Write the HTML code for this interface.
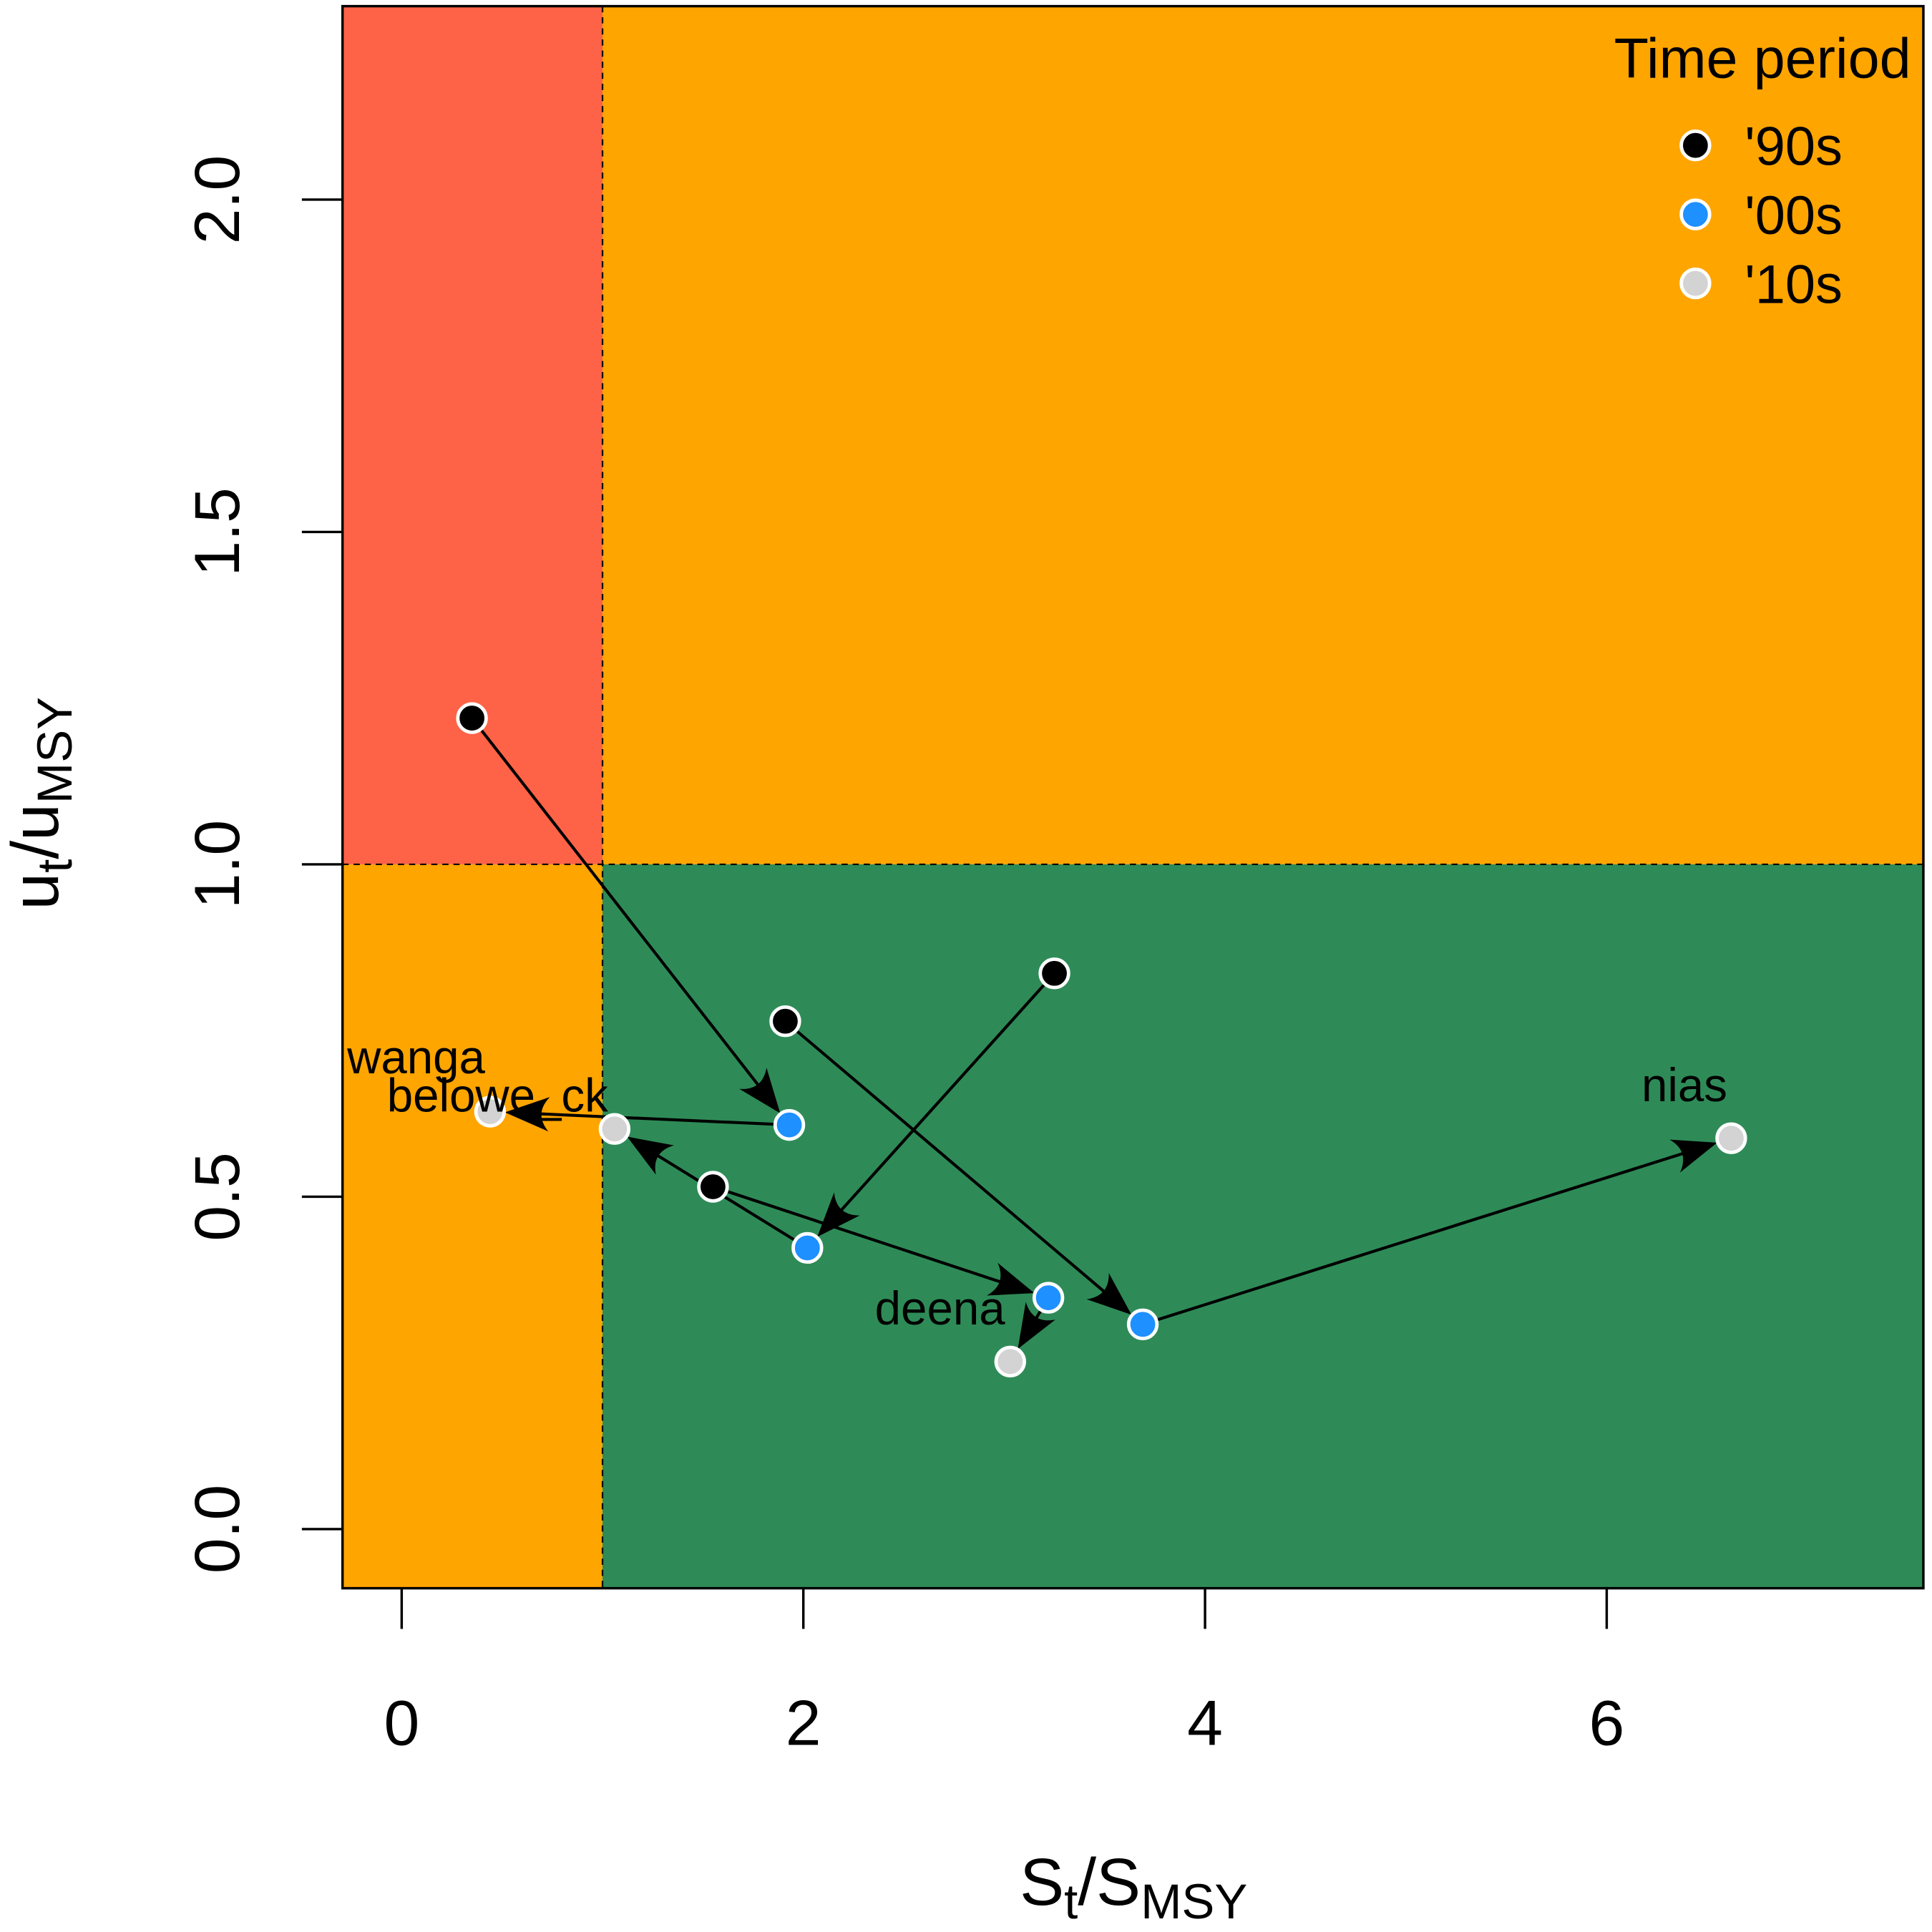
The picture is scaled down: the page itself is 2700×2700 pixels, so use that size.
<!DOCTYPE html>
<html><head><meta charset="utf-8"><style>
html,body{margin:0;padding:0;background:#fff;}
svg{display:block;font-family:"Liberation Sans",Arial,sans-serif;}
</style></head><body>
<svg id="chart" width="2700" height="2700" viewBox="0 0 1568 1568" xmlns="http://www.w3.org/2000/svg">
<g id="bg"></g>
<g id="axes"></g>
<g id="arrows"></g>
<g id="pts"></g>
<g id="labels"></g>
<g id="legend">
  <text x="1551" y="63" font-size="46" text-anchor="end">Time period</text>
</g>
<text x="920" y="1546" font-size="54" text-anchor="middle">S<tspan font-size="40" dy="11">t</tspan><tspan dy="-11">/S</tspan><tspan font-size="40" dy="11">MSY</tspan></text>
<text transform="translate(47,652) rotate(-90)" font-size="54" text-anchor="middle">u<tspan font-size="40" dy="11">t</tspan><tspan dy="-11">/u</tspan><tspan font-size="40" dy="11">MSY</tspan></text>
</svg>
<script>
const stocks = ["wanga","belowe_ck","deena","nias"];
const sx90 = [0.35, 3.25, 1.55, 1.91];
const uy90 = [1.22, 0.836, 0.515, 0.764];
const sx00 = [1.93, 2.02, 3.22, 3.69];
const uy00 = [0.608, 0.423, 0.348, 0.308];
const sx10 = [0.44, 1.06, 3.03, 6.62];
const uy10 = [0.628, 0.602, 0.252, 0.588];
const xTicks = [0,2,4,6];
const yTicks = ["0.0","0.5","1.0","1.5","2.0"];
const periods = ["'90s","'00s","'10s"];
const periodColors = ["#000000","#1E90FF","#D3D3D3"];

const NS="http://www.w3.org/2000/svg";
const L=278,R=1561,T=5,B=1289;
function X(v){return 326+v*163;}
function Y(v){return 1241-v*539.5;}
function mk(tag,attrs,parent){const e=document.createElementNS(NS,tag);for(const k in attrs)e.setAttribute(k,attrs[k]);parent.appendChild(e);return e;}
const bg=document.getElementById('bg');
let r;
r=mk('rect',{x:L,y:T,width:X(1)-L,height:Y(1)-T,fill:'#FF6347'},bg);

r=mk('rect',{x:X(1),y:T,width:R-X(1),height:Y(1)-T,fill:'#FFA500'},bg);

r=mk('rect',{x:L,y:Y(1),width:X(1)-L,height:B-Y(1),fill:'#FFA500'},bg);

r=mk('rect',{x:X(1),y:Y(1),width:R-X(1),height:B-Y(1),fill:'#2E8B57'},bg);

r=mk('line',{x1:X(1),y1:T,x2:X(1),y2:B,stroke:'#000','stroke-width':1.3,'stroke-dasharray':'5,4'},bg);

r=mk('line',{x1:L,y1:Y(1),x2:R,y2:Y(1),stroke:'#000','stroke-width':1.3,'stroke-dasharray':'5,4'},bg);

r=mk('rect',{x:L,y:T,width:R-L,height:B-T,fill:'none',stroke:'#000','stroke-width':2},bg);


const ax=document.getElementById('axes');
xTicks.forEach(v=>{
  let t=mk('line',{x1:X(v),y1:B,x2:X(v),y2:B+33,stroke:'#000','stroke-width':2},ax);
  
  let s=mk('text',{x:X(v),y:1416,'font-size':52,'text-anchor':'middle'},ax);s.textContent=v;
  
});
yTicks.forEach(v=>{
  const y=Y(parseFloat(v));
  let t=mk('line',{x1:L,y1:y,x2:L-33,y2:y,stroke:'#000','stroke-width':2},ax);
  
  let s=mk('text',{transform:`translate(194,${y}) rotate(-90)`,'font-size':52,'text-anchor':'middle'},ax);s.textContent=v;
  
});

const ar=document.getElementById('arrows');
function arrow(x1,y1,x2,y2){
  const dx=x2-x1,dy=y2-y1,len=Math.hypot(dx,dy),ux=dx/len,uy=dy/len;
  const ex=x2-ux*12,ey=y2-uy*12;
  let l=mk('line',{x1:x1,y1:y1,x2:ex-ux*10,y2:ey-uy*10,stroke:'#000','stroke-width':2.4},ar);
  
  const px=-uy,py=ux,hl=36,hw=14;
  const bx=ex-ux*hl,by=ey-uy*hl,mx=ex-ux*hl*0.65,my=ey-uy*hl*0.65;
  let h=mk('path',{d:`M${ex},${ey} L${bx+px*hw},${by+py*hw} Q${mx},${my} ${bx-px*hw},${by-py*hw} Z`,fill:'#000'},ar);
  
}
const pts=document.getElementById('pts');
function pt(x,y,c,name){let e=mk('circle',{cx:x,cy:y,r:11.5,fill:c,stroke:'#fff','stroke-width':2.8},pts);
  }
stocks.forEach((s,i)=>{
  arrow(X(sx90[i]),Y(uy90[i]),X(sx00[i]),Y(uy00[i]));
  arrow(X(sx00[i]),Y(uy00[i]),X(sx10[i]),Y(uy10[i]));
});
stocks.forEach((s,i)=>{
  pt(X(sx90[i]),Y(uy90[i]),periodColors[0],'point-90s');
  pt(X(sx00[i]),Y(uy00[i]),periodColors[1],'point-00s');
  pt(X(sx10[i]),Y(uy10[i]),periodColors[2],'point-10s');
});
const lab=document.getElementById('labels');
const labOff=[[-60,-31],[-95,-14],[-57,-30],[-38,-30]];
stocks.forEach((s,i)=>{
  let t=mk('text',{x:X(sx10[i])+labOff[i][0],y:Y(uy10[i])+labOff[i][1],'font-size':38,'text-anchor':'middle'},lab);
  t.textContent=s;
  
});
const lg=document.getElementById('legend');
periods.forEach((p,i)=>{
  const y=118+i*56;
  let c=mk('circle',{cx:1376,cy:y,r:11.5,fill:periodColors[i],stroke:'#fff','stroke-width':2.8},lg);
  
  let t=mk('text',{x:1416,y:y+16,'font-size':44},lg);t.textContent=p;
  
});
</script>
</body></html>
